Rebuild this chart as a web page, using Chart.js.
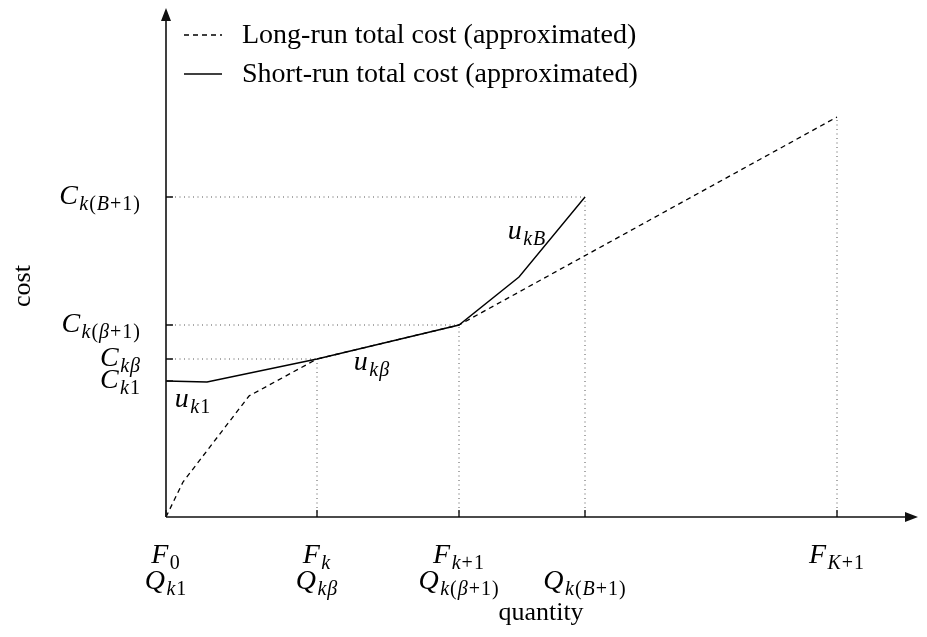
<!DOCTYPE html>
<html>
<head>
<meta charset="utf-8">
<script src="https://cdn.jsdelivr.net/npm/chart.js@4.4.1/dist/chart.umd.min.js"></script>
<style>
  html, body { margin: 0; background: #fff; }
  #wrap { width: 927px; height: 637px; position: relative; }
</style>
</head>
<body>
<div id="wrap"><canvas id="costChart"></canvas></div>
<script>
// ── Data (arbitrary units; origin = F0) ───────────────────────────────────
const xMax = 75.2, yMax = 50.9;

const longRunX  = [0, 1.7, 8.3, 15.1, 29.3, 67.1];
const longRunY  = [0, 3.5, 12.1, 15.8, 19.2, 40.0];
const shortRunX = [0, 4.1, 15.1, 29.3, 35.3, 41.9];
const shortRunY = [13.6, 13.5, 15.8, 19.2, 24.0, 32.0];

// x ticks: two label rows (F on top, Q underneath)
const xTickValues = [0, 15.1, 29.3, 41.9, 67.1];
const xTickTop    = ['F_{0}', 'F_{k}', 'F_{k+1}', '', 'F_{K+1}'];
const xTickBottom = ['Q_{k1}', 'Q_{kβ}', 'Q_{k(β+1)}', 'Q_{k(B+1)}', ''];

// y ticks
const yTickValues = [13.6, 15.8, 19.2, 32.0];
const yTickLabels = ['C_{k1}', 'C_{kβ}', 'C_{k(β+1)}', 'C_{k(B+1)}'];

// dotted guides: vertical from axis up to the curve, horizontal from axis across
const vGuideX   = [15.1, 29.3, 41.9, 67.1];
const vGuideTop = [15.8, 19.2, 32.0, 40.0];
const hGuideY   = [15.8, 19.2, 32.0];
const hGuideEnd = [15.1, 29.3, 41.9];

// segment annotations
const segLabels = ['u_{k1}', 'u_{kβ}', 'u_{kB}'];
const segLabelX = [2.7, 20.6, 36.1];
const segLabelY = [11.9, 15.6, 28.7];

const legendLabels = ['Long-run total cost (approximated)', 'Short-run total cost (approximated)'];

// ── helpers ───────────────────────────────────────────────────────────────
const SERIF = '"Liberation Serif", "DejaVu Serif", serif';
const BASE = 28, SUB = 20;

// "X_{sub}" -> list of runs {t, it, sub}
function parseMath(s) {
  const m = s.match(/^(.)_\{(.*)\}$/);
  const runs = [{ t: m ? m[1] : s, it: true, sub: false }];
  if (m) for (const ch of m[2]) runs.push({ t: ch, it: /[A-Za-zβ]/.test(ch), sub: true });
  return runs;
}
function runFont(r) { return (r.it ? 'italic ' : '') + (r.sub ? SUB : BASE) + 'px ' + SERIF; }
function runWidth(ctx, r) { ctx.font = runFont(r); return ctx.measureText(r.t).width + (r.sub ? 1 : 1.5); }
// draw with vertical middle of the base letter at y; align 'center' | 'right'
function drawMath(ctx, s, x, y, align) {
  if (!s) return;
  const runs = parseMath(s);
  const w = runs.reduce((a, r) => a + runWidth(ctx, r), 0);
  let cx = align === 'right' ? x - w : x - w / 2;
  ctx.textBaseline = 'alphabetic';
  ctx.textAlign = 'left';
  const baseline = y + BASE * 0.33;
  runs.forEach(r => {
    ctx.font = runFont(r);
    ctx.fillText(r.t, cx, r.sub ? baseline + 6 : baseline);
    cx += runWidth(ctx, r);
  });
}

const toPts = (xs, ys) => xs.map((x, i) => ({ x, y: ys[i] }));

const guideStyle = {
  borderColor: '#555', borderWidth: 1, borderDash: [1, 3.5],
  pointRadius: 0, fill: false, tension: 0, showLine: true
};
const guides = [];
vGuideX.forEach((x, i) => guides.push({ ...guideStyle, label: 'v' + i, data: [{ x, y: 0 }, { x, y: vGuideTop[i] }] }));
hGuideY.forEach((y, i) => guides.push({ ...guideStyle, label: 'h' + i, data: [{ x: 0, y }, { x: hGuideEnd[i], y }] }));

// ── axes, ticks, labels, legend drawn on top ──────────────────────────────
const diagramPlugin = {
  id: 'diagram',
  afterDatasetsDraw(chart) {
    const { ctx, scales: { x, y } } = chart;
    const x0 = x.getPixelForValue(0), y0 = y.getPixelForValue(0);
    const xEnd = x.getPixelForValue(xMax), yEnd = y.getPixelForValue(yMax);
    ctx.save();
    ctx.strokeStyle = '#111'; ctx.fillStyle = '#111'; ctx.lineWidth = 1.6;

    // axis lines + arrow heads
    ctx.beginPath();
    ctx.moveTo(x0, y0); ctx.lineTo(xEnd - 8, y0);
    ctx.moveTo(x0, y0); ctx.lineTo(x0, yEnd + 8);
    ctx.stroke();
    ctx.beginPath();
    ctx.moveTo(xEnd, y0); ctx.lineTo(xEnd - 13, y0 - 5); ctx.lineTo(xEnd - 13, y0 + 5); ctx.closePath();
    ctx.moveTo(x0, yEnd); ctx.lineTo(x0 - 5, yEnd + 13); ctx.lineTo(x0 + 5, yEnd + 13); ctx.closePath();
    ctx.fill();

    // tick marks (inside)
    ctx.lineWidth = 1.4;
    ctx.beginPath();
    xTickValues.forEach(v => { const px = x.getPixelForValue(v); ctx.moveTo(px, y0); ctx.lineTo(px, y0 - 7); });
    yTickValues.forEach(v => { const py = y.getPixelForValue(v); ctx.moveTo(x0, py); ctx.lineTo(x0 + 7, py); });
    ctx.stroke();

    // tick labels
    ctx.fillStyle = '#000';
    xTickValues.forEach((v, i) => {
      const px = x.getPixelForValue(v);
      drawMath(ctx, xTickTop[i], px, y0 + 37, 'center');
      drawMath(ctx, xTickBottom[i], px, y0 + 63, 'center');
    });
    yTickValues.forEach((v, i) => drawMath(ctx, yTickLabels[i], x0 - 25, y.getPixelForValue(v) - 2, 'right'));

    // segment annotations
    segLabels.forEach((s, i) => drawMath(ctx, s, x.getPixelForValue(segLabelX[i]), y.getPixelForValue(segLabelY[i]), 'center'));

    // axis titles
    ctx.font = '26px ' + SERIF;
    ctx.textAlign = 'center'; ctx.textBaseline = 'middle';
    ctx.fillText('quantity', 541, 613);
    ctx.save();
    ctx.translate(23, 286); ctx.rotate(-Math.PI / 2);
    ctx.fillText('cost', 0, 0);
    ctx.restore();

    // legend
    const ds = chart.data.datasets;
    const rows = [35, 74];
    [0, 1].forEach(i => {
      ctx.beginPath();
      ctx.lineWidth = 1.3; ctx.strokeStyle = '#000';
      ctx.setLineDash(ds[i].borderDash || []);
      ctx.moveTo(184, rows[i]); ctx.lineTo(222, rows[i]);
      ctx.stroke();
      ctx.setLineDash([]);
      ctx.font = '28px ' + SERIF;
      ctx.textAlign = 'left'; ctx.textBaseline = 'middle';
      ctx.fillText(ds[i].label, 242, rows[i] + 1);
    });
    ctx.restore();
  }
};

new Chart(document.getElementById('costChart'), {
  type: 'scatter',
  data: {
    datasets: [
      {
        label: legendLabels[0],
        data: toPts(longRunX, longRunY),
        borderColor: '#000', borderWidth: 1.3, borderDash: [5, 4],
        showLine: true, pointRadius: 0, tension: 0, fill: false
      },
      {
        label: legendLabels[1],
        data: toPts(shortRunX, shortRunY),
        borderColor: '#000', borderWidth: 1.4,
        showLine: true, pointRadius: 0, tension: 0, fill: false
      },
      ...guides
    ]
  },
  options: {
    responsive: true, maintainAspectRatio: false, animation: false,
    layout: { padding: { left: 166, right: 9, top: 8, bottom: 120 } },
    plugins: { legend: { display: false }, tooltip: { enabled: false } },
    scales: {
      x: { type: 'linear', min: 0, max: xMax, display: false },
      y: { type: 'linear', min: 0, max: yMax, display: false }
    }
  },
  plugins: [diagramPlugin]
});
</script>
</body>
</html>
